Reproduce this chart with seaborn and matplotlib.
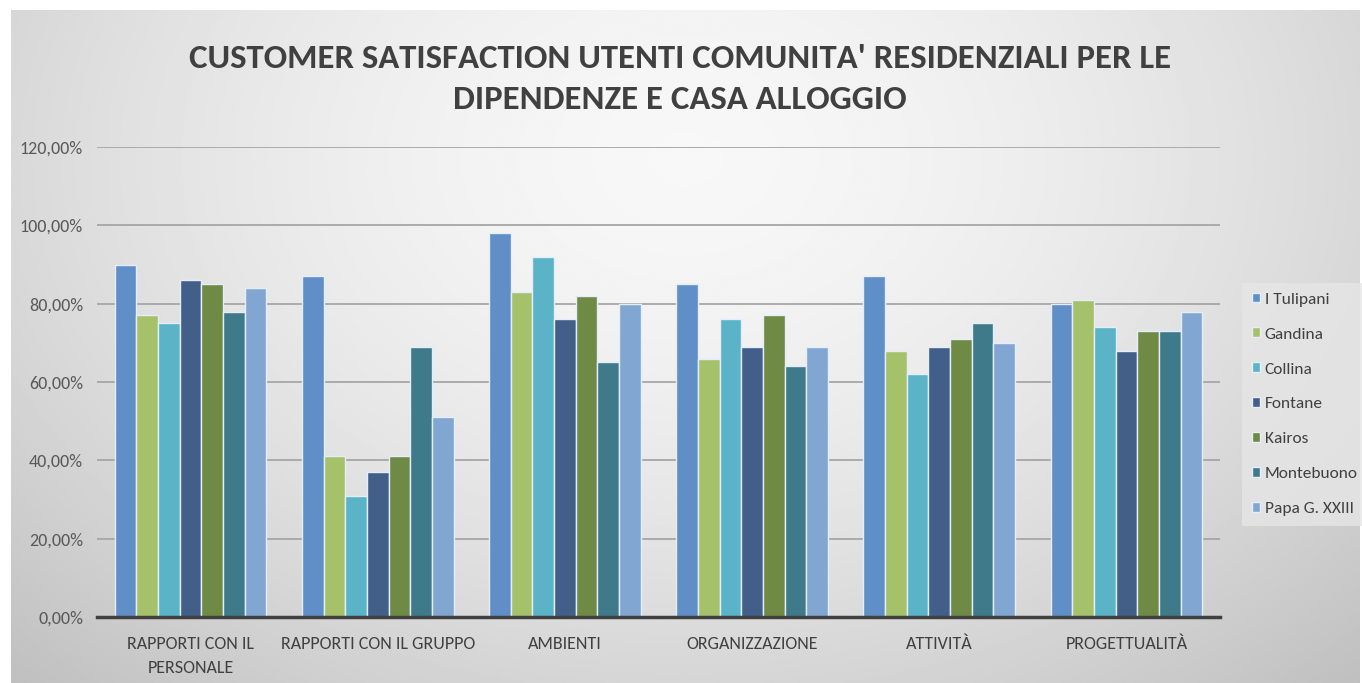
import numpy as np
import pandas as pd
import matplotlib
matplotlib.use("Agg")
import matplotlib.pyplot as plt
import seaborn as sns

categories = ["RAPPORTI CON IL\nPERSONALE", "RAPPORTI CON IL GRUPPO", "AMBIENTI",
              "ORGANIZZAZIONE", "ATTIVITÀ", "PROGETTUALITÀ"]
series = ["I Tulipani", "Gandina", "Collina", "Fontane", "Kairos", "Montebuono", "Papa G. XXIII"]
i_tulipani = [90, 87, 98, 85, 87, 80]
gandina = [77, 41, 83, 66, 68, 81]
collina = [75, 31, 92, 76, 62, 74]
fontane = [86, 37, 76, 69, 69, 68]
kairos = [85, 41, 82, 77, 71, 73]
montebuono = [78, 69, 65, 64, 75, 73]
papa = [84, 51, 80, 69, 70, 78]
yticks = [0, 20, 40, 60, 80, 100, 120]
colors = ["#5f8fc6", "#a5c26a", "#5bb3c8", "#415f88", "#6f8a45", "#3e7a8a", "#82a6d2"]
title = "CUSTOMER SATISFACTION UTENTI COMUNITA' RESIDENZIALI PER LE\nDIPENDENZE E CASA ALLOGGIO"

values = [i_tulipani, gandina, collina, fontane, kairos, montebuono, papa]
rows = []
for s, vals in zip(series, values):
    for c, v in zip(categories, vals):
        rows.append({"cat": c, "serie": s, "val": v})
df = pd.DataFrame(rows)

sns.set_theme(style="white")
plt.rcParams['font.family'] = ['Carlito', 'Liberation Sans', 'DejaVu Sans']

W, H = 1362, 683
fig = plt.figure(figsize=(W / 100, H / 100), dpi=100)
fig.patch.set_facecolor("white")

bg = fig.add_axes([11 / W, 0, (1360 - 11) / W, 673 / H])
bg.set_axis_off()
yy, xx = np.mgrid[0:1:300j, 0:1:600j]
d = np.sqrt(((xx - 0.5) / 0.75) ** 2 + ((yy - 0.22) / 1.1) ** 2)
g = 0.97 - 0.23 * np.clip(d, 0, 1) ** 1.6
bg.imshow(g, cmap="gray", vmin=0, vmax=1, aspect="auto", extent=[0, 1, 1, 0], interpolation="bilinear")
bg.set_xlim(0, 1)
bg.set_ylim(1, 0)

ax = fig.add_axes([97 / W, (H - 617) / H, (1220 - 97) / W, (617 - 147) / H])
ax.patch.set_alpha(0)
sns.barplot(data=df, x="cat", y="val", hue="serie", palette=colors, width=0.81,
            edgecolor="#e4eefa", linewidth=1.0, ax=ax, zorder=3, saturation=1)
ax.set_ylim(0, 120)
ax.set_xlim(-0.5, len(categories) - 0.5)
ax.set_yticks(yticks)
ax.set_yticklabels([f"{t},00%" for t in yticks], color="#595959", fontsize=13)
ax.tick_params(axis="x", colors="#404040", labelsize=13, length=0, pad=14)
ax.tick_params(axis="y", length=0, pad=10)
for lbl in ax.get_xticklabels():
    lbl.set_linespacing(1.6)
ax.set_xlabel("")
ax.set_ylabel("")
ax.yaxis.grid(True, color="#a6a6a6", linewidth=1.3, zorder=0)
ax.set_axisbelow(True)
for sp in ["top", "right", "left"]:
    ax.spines[sp].set_visible(False)
ax.spines["bottom"].set_color("#404040")
ax.spines["bottom"].set_linewidth(2.5)
ax.spines["bottom"].set_zorder(5)

handles, labels = ax.get_legend_handles_labels()
if ax.legend_:
    ax.legend_.remove()
leg = fig.legend(handles, labels, loc="upper left", bbox_to_anchor=(1242 / W, (H - 283) / H),
                 frameon=True, facecolor="#e6e6e6", edgecolor="none", fancybox=False,
                 fontsize=12.5, handlelength=0.5, handleheight=0.5, handletextpad=0.25,
                 labelspacing=1.2, borderpad=0.55, borderaxespad=0)
for t in leg.get_texts():
    t.set_color("#404040")

fig.text(680 / W, (H - 79) / H, title, ha="center", va="center", fontsize=25,
         fontweight="bold", color="#404040", linespacing=1.5)

fig.savefig("out.png", dpi=100)
